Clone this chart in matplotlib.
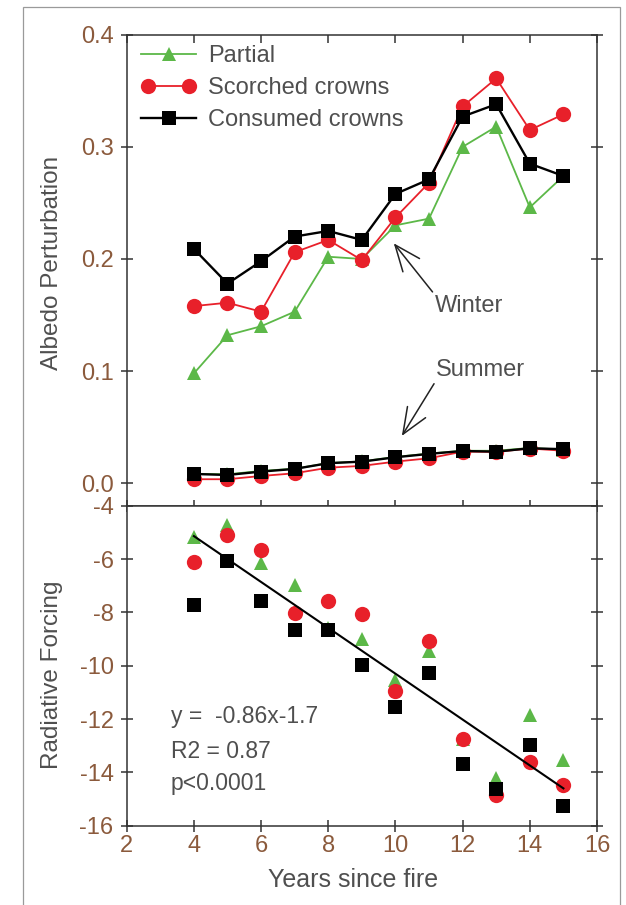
import matplotlib
matplotlib.use('Agg')
import matplotlib.pyplot as plt
from matplotlib.legend_handler import HandlerLine2D
from matplotlib.patches import Rectangle

plt.rcParams['font.family'] = ['Liberation Sans', 'DejaVu Sans']
plt.rcParams['axes.unicode_minus'] = False

# ---------------- data ----------------
years = [4, 5, 6, 7, 8, 9, 10, 11, 12, 13, 14, 15]

winter_partial = [0.098, 0.132, 0.140, 0.153, 0.202, 0.200, 0.230, 0.236, 0.300, 0.318, 0.246, 0.274]
winter_scorched = [0.158, 0.161, 0.153, 0.206, 0.217, 0.199, 0.237, 0.268, 0.336, 0.361, 0.315, 0.329]
winter_consumed = [0.209, 0.178, 0.198, 0.220, 0.225, 0.217, 0.258, 0.271, 0.327, 0.338, 0.285, 0.274]

summer_partial = [0.0085, 0.008, 0.011, 0.013, 0.018, 0.0195, 0.0235, 0.0265, 0.029, 0.029, 0.0315, 0.030]
summer_scorched = [0.0036, 0.0036, 0.0065, 0.0089, 0.0139, 0.0155, 0.0193, 0.0223, 0.0282, 0.028, 0.031, 0.029]
summer_consumed = [0.0083, 0.0074, 0.0104, 0.0128, 0.0179, 0.0193, 0.0232, 0.0262, 0.0288, 0.0282, 0.0312, 0.0304]

rf_partial = [-5.16, -4.73, -6.14, -6.98, -8.60, -8.99, -10.53, -9.45, -12.75, -14.22, -11.85, -13.54]
rf_scorched = [-6.10, -5.10, -5.66, -8.01, -7.58, -8.05, -10.96, -9.09, -12.74, -14.85, -13.60, -14.47]
rf_consumed = [-7.71, -6.06, -7.58, -8.67, -8.65, -9.96, -11.55, -10.28, -13.68, -14.63, -12.97, -15.25]

fit_slope = -0.86
fit_intercept = -1.7
fit_x = [4, 15]

series_labels = ['Partial', 'Scorched crowns', 'Consumed crowns']
xticks = [2, 4, 6, 8, 10, 12, 14, 16]
top_yticks = [0.0, 0.1, 0.2, 0.3, 0.4]
bottom_yticks = [-4, -6, -8, -10, -12, -14, -16]

# ---------------- style ----------------
GREEN = '#5cb848'
RED = '#e8202a'
BLACK = '#000000'
TICK_COLOR = '#8b5a3c'
TEXT_COLOR = '#4f4f4f'
SPINE = '#333333'

fig = plt.figure(figsize=(6.26, 9.05), dpi=100)

L = 126.7 / 626
W = (597.0 - 126.7) / 626
ax1 = fig.add_axes([L, 1 - 505.7 / 905, W, (505.7 - 34.7) / 905])
ax2 = fig.add_axes([L, 1 - 825.7 / 905, W, (825.7 - 505.7) / 905])

for ax in (ax1, ax2):
    for s in ax.spines.values():
        s.set_color(SPINE)
        s.set_linewidth(1.1)
    ax.set_xlim(2, 16)
    ax.set_xticks(xticks)
    ax.tick_params(axis='both', which='major', direction='inout', length=9,
                   width=1.1, color=SPINE, labelcolor=TICK_COLOR, labelsize=17,
                   left=True, right=True, top=True, bottom=True)

# ---- top panel ----
kw_p = dict(color=GREEN, marker='^', markersize=10.5, lw=1.3, mew=0)
kw_s = dict(color=RED, marker='o', markersize=11, lw=1.3, mew=0)
kw_c = dict(color=BLACK, marker='s', markersize=10, lw=1.7, mew=0)

lp, = ax1.plot(years, winter_partial, **kw_p, label=series_labels[0])
ls, = ax1.plot(years, winter_scorched, **kw_s, label=series_labels[1])
lc, = ax1.plot(years, winter_consumed, **kw_c, label=series_labels[2])
ax1.plot(years, summer_partial, **kw_p)
ax1.plot(years, summer_scorched, **kw_s)
ax1.plot(years, summer_consumed, **kw_c)

ax1.set_ylim(-0.02, 0.4)
ax1.set_yticks(top_yticks)
ax1.set_yticklabels(['%.1f' % v for v in top_yticks])
ax1.tick_params(axis='x', labelbottom=False)
for t in ax1.xaxis.get_major_ticks():
    t.tick2line.set_marker(3)  # top ticks pointing inward (down)
    t.tick2line.set_markersize(5.5)
ax1.tick_params(axis='y', pad=5)

leg = ax1.legend(handles=[lp, ls, lc], loc='upper left', bbox_to_anchor=(0.03, 0.978),
                 frameon=False, fontsize=17, numpoints=1, handlelength=2.35,
                 handletextpad=0.5, labelspacing=0.42, borderaxespad=0, borderpad=0,
                 handler_map={ls: HandlerLine2D(numpoints=2)})
for t in leg.get_texts():
    t.set_color(TEXT_COLOR)

ax1.text(-0.159, 0.516, 'Albedo Perturbation', transform=ax1.transAxes, rotation=90,
         ha='center', va='center', fontsize=17.5, color=TEXT_COLOR)

ax1.annotate('Winter', xy=(9.95, 0.214), xytext=(11.17, 0.153), fontsize=17,
             color=TEXT_COLOR, ha='left', va='baseline',
             arrowprops=dict(arrowstyle='->,head_length=1.1,head_width=0.45',
                             color='#222222', lw=1.1, shrinkA=0, shrinkB=0,
                             relpos=(0.0, 1.0)))
ax1.annotate('Summer', xy=(10.19, 0.0422), xytext=(11.2, 0.0957), fontsize=17,
             color=TEXT_COLOR, ha='left', va='baseline',
             arrowprops=dict(arrowstyle='->,head_length=1.1,head_width=0.45',
                             color='#222222', lw=1.1, shrinkA=0, shrinkB=0,
                             relpos=(0.0, 0.0)))

# ---- bottom panel ----
ax2.plot(years, rf_partial, linestyle='none', **{k: v for k, v in kw_p.items() if k != 'lw'})
ax2.plot(years, rf_scorched, linestyle='none', **{k: v for k, v in kw_s.items() if k != 'lw'})
ax2.plot(years, rf_consumed, linestyle='none', **{k: v for k, v in kw_c.items() if k != 'lw'})
fit_y = [fit_slope * x + fit_intercept for x in fit_x]
ax2.plot(fit_x, fit_y, color=BLACK, lw=1.5)

ax2.set_ylim(-16, -4)
ax2.set_yticks(bottom_yticks)
ax2.set_yticklabels([str(v) for v in bottom_yticks])
ax2.tick_params(axis='x', top=False, pad=2)
ax2.tick_params(axis='y', pad=5)

ax2.text(-0.159, 0.472, 'Radiative Forcing', transform=ax2.transAxes, rotation=90,
         ha='center', va='center', fontsize=17.5, color=TEXT_COLOR)
ax2.text(0.482, -0.19, 'Years since fire', transform=ax2.transAxes,
         ha='center', va='baseline', fontsize=18, color=TEXT_COLOR)

ax2.text(3.32, -12.15, 'y =  -0.86x-1.7', fontsize=16.5, color=TEXT_COLOR, va='baseline')
ax2.text(3.32, -13.45, 'R2 = 0.87', fontsize=16.5, color=TEXT_COLOR, va='baseline')
ax2.text(3.32, -14.66, 'p<0.0001', fontsize=16.5, color=TEXT_COLOR, va='baseline')

# figure frame (left, top, right edges)
fig.add_artist(Rectangle((23 / 626, -0.05), (620 - 23) / 626, (905 - 7) / 905 + 0.05,
                         transform=fig.transFigure, fill=False, ec='#9a9a9a', lw=0.9))

fig.savefig('out.png', dpi=100)
